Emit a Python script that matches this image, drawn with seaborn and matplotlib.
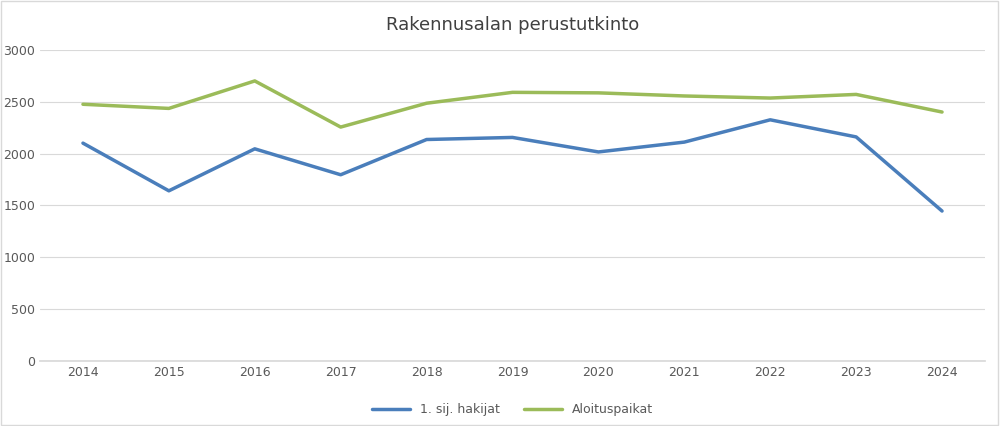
import matplotlib
matplotlib.use("Agg")
import matplotlib.pyplot as plt
import seaborn as sns
import pandas as pd

years = [2014, 2015, 2016, 2017, 2018, 2019, 2020, 2021, 2022, 2023, 2024]
hakijat = [2100, 1640, 2045, 1795, 2135, 2155, 2015, 2110, 2325, 2160, 1445]
aloituspaikat = [2475, 2435, 2700, 2255, 2485, 2590, 2585, 2555, 2535, 2570, 2400]

df = pd.DataFrame({
    "year": [str(y) for y in years] * 2,
    "value": hakijat + aloituspaikat,
    "series": ["1. sij. hakijat"] * len(years) + ["Aloituspaikat"] * len(years),
})

sns.set_theme(style="white")
fig, ax = plt.subplots(figsize=(10, 4.26), dpi=100)
fig.subplots_adjust(left=0.04, right=0.985, top=0.883, bottom=0.153)

sns.lineplot(data=df, x="year", y="value", hue="series", sort=False,
             palette=["#4a7ebb", "#9bbb59"], linewidth=2.5, ax=ax)

ax.set_ylim(0, 3000)
ax.set_yticks(range(0, 3001, 500))
ax.set_xlim(-0.5, len(years) - 0.5)
ax.grid(axis="y", color="#d9d9d9", linewidth=0.8)
ax.set_axisbelow(True)
for side in ["top", "right", "left"]:
    ax.spines[side].set_visible(False)
ax.spines["bottom"].set_color("#d9d9d9")
ax.tick_params(axis="both", labelsize=9, colors="#595959", length=0)
ax.set_xlabel("")
ax.set_ylabel("")
ax.set_title("Rakennusalan perustutkinto", fontsize=13, color="#404040", pad=14)

ax.legend(loc="upper center", bbox_to_anchor=(0.5, -0.1), ncol=2, frameon=False,
          fontsize=9, labelcolor="#595959", title=None, handlelength=3)

fig.patches.append(plt.Rectangle((0.001, 0.002), 0.997, 0.995, transform=fig.transFigure,
                                 fill=False, edgecolor="#d9d9d9", linewidth=1))
fig.savefig("out.png", dpi=100)
